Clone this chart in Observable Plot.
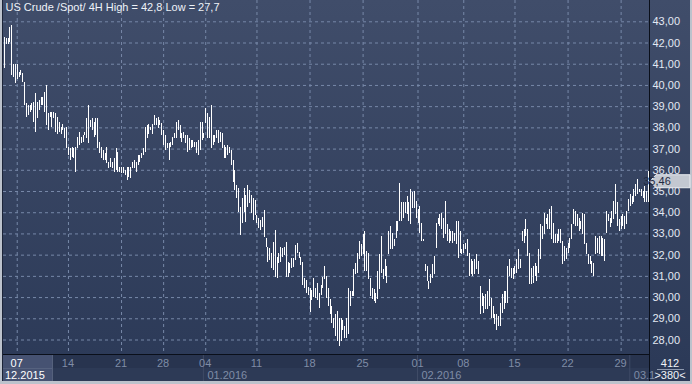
<!DOCTYPE html>
<html>
<head>
<meta charset="utf-8">
<script src="https://cdn.jsdelivr.net/npm/d3@7"></script>
<script src="https://cdn.jsdelivr.net/npm/@observablehq/plot@0.6"></script>
<style>
  html, body { margin: 0; padding: 0; background: #bfc4cc; }
  #chart svg { display: block; }
</style>
</head>
<body>
<div id="chart"></div>
<script>
// ---------- data (4H bars, high / low) ----------
const highs = [
  42.27,42.22,42.22,42.74,42.82,41.01,41.01,41.01,40.62,40.70,
  40.54,40.15,39.13,39.05,39.05,39.13,39.21,39.60,39.21,39.28,
  39.44,39.44,39.68,39.99,38.66,38.73,38.73,38.73,38.66,38.50,
  38.26,38.03,38.18,37.95,38.03,37.09,37.01,37.09,37.01,37.09,
  37.56,37.79,37.56,37.64,37.79,38.42,39.05,38.34,38.42,38.26,
  38.42,38.42,37.32,37.09,36.93,36.77,37.09,36.38,36.54,36.38,
  36.54,37.01,36.85,36.14,36.14,36.14,35.99,36.14,36.14,36.14,
  36.38,36.46,36.38,36.69,36.69,36.77,37.01,38.03,38.11,38.18,
  38.03,38.18,38.58,38.42,38.50,38.34,
  38.19,37.88,37.64,37.25,37.25,37.33,37.56,37.72,38.27,38.35,
  38.11,37.72,37.80,37.64,37.64,37.48,37.41,37.41,37.33,37.33,
  37.41,38.27,38.27,37.72,38.90,38.66,38.51,39.06,37.64,37.64,
  37.88,37.88,37.80,37.72,37.17,37.09,37.17,37.09,36.93,36.46,
  35.99,35.28,35.13,34.26,34.65,35.13,34.81,35.28,35.05,34.81,
  34.65,34.58,33.87,33.71,33.63,33.79,34.10,32.77,32.37,32.30,
  32.06,32.61,33.16,31.90,32.06,32.37,32.30,32.37,32.61,31.67,
  31.59,31.82,31.82,32.45,32.53,32.14,31.90,31.67,30.88,30.80,
  30.49,30.41,30.33,30.88,30.41,30.64,30.17,30.57,30.96,
  31.46,30.99,30.44,29.89,29.57,29.02,29.18,29.34,29.02,29.02,
  28.94,28.63,29.02,30.44,30.28,30.28,31.31,31.62,32.09,32.65,
  32.49,32.96,33.12,32.17,32.09,30.91,30.44,30.36,30.20,31.23,
  32.02,32.88,31.31,31.78,31.46,33.12,33.35,33.04,32.72,33.59,
  33.59,35.40,34.46,34.46,34.46,34.77,34.46,35.09,34.93,35.01,
  34.54,34.14,34.30,33.51,32.76,31.54,31.46,30.76,31.07,31.54,
  31.94,33.51,33.75,33.91,33.98,33.75,34.54,33.43,33.20,33.12,
  33.12,33.04,33.59,33.59,33.12,32.25,32.49,32.57,32.72,32.09,
  31.78,31.70,31.78,32.02,31.70,30.52,30.20,30.05,30.13,
  30.28,30.83,29.97,29.57,29.18,29.18,29.10,29.73,30.13,30.28,
  30.28,31.46,31.78,31.39,31.39,31.46,31.78,32.25,31.78,33.12,
  33.20,33.67,33.20,32.09,31.39,31.46,31.62,31.46,32.25,33.43,
  33.35,33.98,33.75,33.91,34.14,34.30,33.51,32.96,32.96,33.20,
  33.20,32.65,32.41,32.33,32.57,32.80,33.43,34.14,34.06,33.91,
  33.75,33.59,33.98,33.91,32.57,32.02,31.94,31.70,31.62,32.88,
  32.80,32.88,32.88,32.80,32.72,34.06,33.91,33.75,34.06,34.54,
  35.32,34.46,33.67,33.83,33.91,33.83,34.06,34.61,34.85,34.77,
  35.09,35.32,35.56,35.09,35.09,35.01,35.24,35.01,35.95
];
const lows = [
  40.78,41.95,41.91,42.03,40.46,40.38,40.07,40.30,40.38,40.46,
  40.15,39.05,38.50,38.58,38.73,38.81,38.26,37.79,38.42,38.81,
  39.05,39.05,38.73,38.11,37.87,38.50,38.03,38.42,37.79,37.71,
  37.79,37.71,37.87,37.48,37.01,36.69,36.46,36.62,36.54,35.91,
  37.01,37.16,37.24,37.32,37.64,37.48,37.24,38.03,37.87,37.56,
  37.64,37.01,36.77,36.54,36.46,36.46,36.30,36.07,36.14,36.07,
  35.91,35.99,35.91,35.91,35.83,35.83,35.75,35.52,35.67,35.60,
  36.07,36.07,35.91,36.22,36.38,36.54,36.69,36.85,37.48,37.71,
  37.87,37.71,38.11,38.11,37.95,38.11,
  37.64,37.17,36.93,37.01,36.46,37.09,37.17,37.48,37.48,37.88,
  37.48,37.33,37.48,37.25,36.86,36.93,37.01,37.09,37.09,36.78,
  36.70,36.93,37.41,37.48,38.19,37.48,37.48,37.01,37.17,37.33,
  37.48,37.25,37.33,37.01,36.54,36.54,36.70,36.78,36.23,35.44,
  35.05,34.65,34.03,32.92,33.47,34.03,33.55,34.26,34.42,33.95,
  33.63,33.87,33.47,33.24,33.16,33.32,32.85,32.37,31.67,31.75,
  31.35,31.27,30.96,30.88,31.59,31.67,31.90,31.98,30.96,30.96,
  31.12,31.35,31.43,31.75,32.06,31.82,31.51,30.57,30.41,30.17,
  30.09,29.31,29.86,30.02,29.94,29.86,29.47,30.09,30.41,
  30.83,29.97,29.57,29.18,28.79,28.55,28.16,27.92,27.69,27.92,
  28.47,28.08,28.08,28.24,29.57,30.05,30.05,31.07,31.15,31.78,
  31.94,32.02,31.23,31.23,30.83,30.05,29.89,29.81,29.73,29.89,
  30.36,31.15,30.83,30.99,30.68,32.02,32.25,32.25,32.41,32.80,
  33.12,33.59,33.59,33.75,33.98,33.91,33.59,33.43,34.22,34.22,
  33.75,33.51,33.04,32.65,32.65,31.23,30.76,30.36,30.68,30.91,
  31.07,32.33,33.43,33.35,33.20,32.80,32.96,32.65,32.57,32.65,
  32.57,32.65,32.49,31.86,32.09,32.02,32.09,32.25,31.94,30.99,
  31.07,30.99,31.07,31.31,31.07,29.18,29.57,29.26,29.42,
  29.42,29.57,29.02,29.02,28.71,28.47,28.63,28.63,29.26,29.42,
  29.73,29.73,30.99,30.91,30.83,31.07,31.15,31.31,31.39,32.65,
  32.57,32.88,31.94,30.60,30.60,30.68,30.99,30.76,31.15,31.78,
  32.72,32.96,33.43,33.20,33.20,32.72,32.57,32.57,32.57,32.65,
  32.57,31.54,31.70,31.78,32.09,32.33,32.72,33.43,33.35,33.35,
  33.12,33.20,32.96,32.49,32.02,31.54,31.54,31.15,30.99,32.02,
  32.09,32.02,31.94,31.94,31.70,33.04,33.59,33.28,33.51,33.67,
  33.91,33.35,33.12,33.20,33.35,33.20,33.43,34.06,34.30,34.38,
  34.46,34.77,34.85,34.93,34.77,34.69,34.46,34.46,34.46
];
const lastPrice = 35.46;
const yTicks = [28,29,30,31,32,33,34,35,36,37,38,39,40,41,42,43];
const weekLabels = ["07","14","21","28","04","11","18","25","01","08","15","22","29"];
const weekBars   = [7,35,64,87,110,138,167,196,226,251,279,308,337];
const monthLabels = ["12.2015","01.2016","02.2016","03.1"];
const monthBars   = [0,109,226,342];
const title = "US Crude /Spot/ 4H High = 42,8 Low = 27,7";
const barTotal = "412";
const barVisible = ">380<";

// ---------- chart ----------
const FONT = "'Liberation Sans Narrow', 'Liberation Sans', Arial, sans-serif";
const N = highs.length;
const idx = d3.range(N);
const fmt = v => v.toFixed(2).replace(".", ",");

const plot = Plot.plot({
  width: 692,
  height: 384,
  marginLeft: 3,
  marginRight: 43,
  marginTop: 0,
  marginBottom: 30,
  style: {background: "transparent", fontFamily: FONT, fontSize: "11px", overflow: "visible"},
  x: {type: "linear", domain: [-0.5, N - 0.5], axis: null},
  y: {domain: [28, 43], range: [339.5, 21.3], axis: null},
  marks: [
    Plot.ruleY(yTicks, {y: d => d, stroke: "#7788a8", strokeDasharray: "3,3", strokeWidth: 1}),
    Plot.ruleX(weekBars, {x: d => d, stroke: "#7788a8", strokeDasharray: "3,3", strokeWidth: 1}),
    Plot.ruleX(idx, {x: i => i, y1: i => lows[i], y2: i => highs[i], stroke: "#ffffff", strokeWidth: 1, shapeRendering: "crispEdges"}),
    Plot.axisY(yTicks, {anchor: "right", tickSize: 0, tickPadding: 3, tickFormat: fmt, fill: "#e3e9f3", fontSize: 11}),
    Plot.text([title], {frameAnchor: "top-left", dx: 2, dy: 3, lineAnchor: "top", textAnchor: "start", fill: "#eef2f8", fontSize: 11})
  ]
});
document.getElementById("chart").appendChild(plot);

const svg = d3.select(plot);
const xs = plot.scale("x"), ys = plot.scale("y");
const X = v => xs.apply(v);
const left = 3, right = 649, bottom = 354;

// gradient background (drawn behind the marks)
const defs = svg.insert("defs", ":first-child");
const g = defs.append("linearGradient").attr("id", "bg").attr("x1", 0).attr("y1", 0).attr("x2", 0).attr("y2", 1);
g.append("stop").attr("offset", "0%").attr("stop-color", "#404d6a");
g.append("stop").attr("offset", "100%").attr("stop-color", "#2b3957");
const back = svg.insert("g", "defs + *");
back.append("rect").attr("x", 0).attr("y", 0).attr("width", 692).attr("height", 384).attr("fill", "#bcc2cc");
back.append("rect").attr("x", 2).attr("y", 0).attr("width", 688).attr("height", 381).attr("fill", "url(#bg)");

// bottom time-axis band
const band = back.append("g");
band.append("rect").attr("x", left).attr("y", bottom + 1).attr("width", right - left).attr("height", 26).attr("fill", "#28344f");
band.append("rect").attr("x", left).attr("y", bottom + 14).attr("width", right - left).attr("height", 13).attr("fill", "#2d3a56");
monthBars.slice(1).forEach(b => {
  band.append("line").attr("x1", X(b)).attr("x2", X(b)).attr("y1", bottom + 1).attr("y2", 381).attr("stroke", "#3f4b66");
});
band.append("rect").attr("x", left).attr("y", bottom + 1).attr("width", 49).attr("height", 26).attr("fill", "#465272");
band.append("line").attr("x1", left).attr("x2", left + 49).attr("y1", bottom + 14.5).attr("y2", bottom + 14.5).attr("stroke", "#56627f");
band.append("line").attr("x1", left + 49.5).attr("x2", left + 49.5).attr("y1", bottom + 1).attr("y2", 381).attr("stroke", "#55617c");

// frame lines
const fg = svg.append("g");
fg.append("line").attr("x1", left).attr("x2", right).attr("y1", bottom + 0.5).attr("y2", bottom + 0.5).attr("stroke", "#0a0f1a");
fg.append("line").attr("x1", right + 0.5).attr("x2", right + 0.5).attr("y1", 0).attr("y2", 381).attr("stroke", "#0a0f1a");
fg.append("line").attr("x1", 2.5).attr("x2", 2.5).attr("y1", 0).attr("y2", 381).attr("stroke", "#1c2438");

// week labels
fg.selectAll("text.wk").data(weekBars).join("text")
  .attr("x", d => X(d)).attr("y", bottom + 13)
  .attr("text-anchor", "middle").attr("font-family", FONT).attr("font-size", 11)
  .attr("fill", (d, i) => i === 0 ? "#ffffff" : "#7f8ca6")
  .text((d, i) => weekLabels[i]);
// month labels
fg.selectAll("text.mo").data(monthBars).join("text")
  .attr("x", (d, i) => i === 0 ? left + 2 : X(d) + 4).attr("y", bottom + 25)
  .attr("text-anchor", "start").attr("font-family", FONT).attr("font-size", 11)
  .attr("fill", (d, i) => i === 0 ? "#ffffff" : "#7f8ca6")
  .text((d, i) => monthLabels[i]);

// bar counter box
fg.append("text").attr("x", 670).attr("y", bottom + 13).attr("text-anchor", "middle")
  .attr("font-family", FONT).attr("font-size", 11).attr("fill", "#f0f3f8").text(barTotal);
fg.append("line").attr("x1", 657).attr("x2", 684).attr("y1", bottom + 15.5).attr("y2", bottom + 15.5).attr("stroke", "#8e9ab0");
fg.append("text").attr("x", 670).attr("y", bottom + 25).attr("text-anchor", "middle")
  .attr("font-family", FONT).attr("font-size", 11).attr("fill", "#f0f3f8").text(barVisible);

// last price tag
const yc = ys.apply(lastPrice);
fg.append("path")
  .attr("d", `M${right + 1},${yc} L${right + 7},${yc - 6.5} L690,${yc - 6.5} L690,${yc + 6.5} L${right + 7},${yc + 6.5} Z`)
  .attr("fill", "#c3c8d1").attr("stroke", "#e9ecf1");
fg.append("text").attr("x", right + 8).attr("y", yc).attr("dy", "0.35em")
  .attr("font-family", FONT).attr("font-size", 11).attr("fill", "#1f2a42").text(fmt(lastPrice));
</script>
</body>
</html>
